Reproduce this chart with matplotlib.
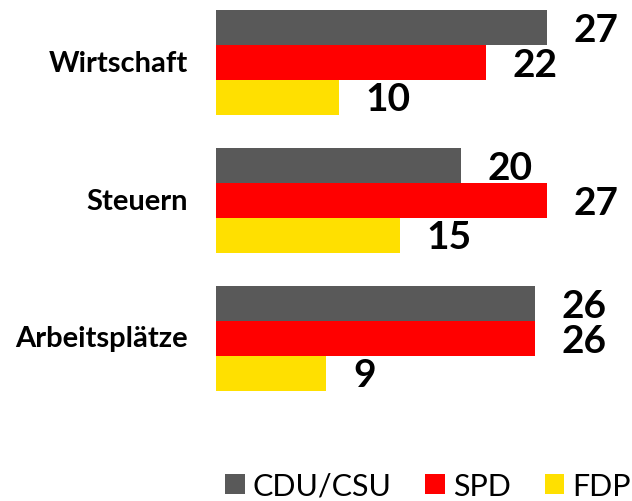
import matplotlib.pyplot as plt
from matplotlib.patches import Patch

plt.rcParams['font.family'] = ['Lato', 'DejaVu Sans']

topics = ["Wirtschaft", "Steuern", "Arbeitsplätze"]
parties = ["CDU/CSU", "SPD", "FDP"]
cdu = [27, 20, 26]
spd = [22, 27, 26]
fdp = [10, 15, 9]
colors = ["#595959", "#ff0000", "#ffe000"]

fig = plt.figure(figsize=(6.32, 5.02), dpi=100)
ax = fig.add_axes([216 / 632, 1 - 440 / 502, 1 - 216 / 632, 440 / 502])

h = 0.2514
for k, (vals, c) in enumerate(zip([cdu, spd, fdp], colors)):
    ys = [i + (k - 1) * h for i in range(len(topics))]
    ax.barh(ys, vals, height=h, color=c, linewidth=0)
    for y, v in zip(ys, vals):
        ax.text(v + 2.2, y + 0.012, str(v), ha='left', va='center',
                fontsize=28, fontweight='bold')

for i, t in enumerate(topics):
    ax.text(-2.3, i, t, ha='right', va='center', fontsize=21,
            fontweight='bold')

ax.set_xlim(0, 416 / 12.25)
ax.set_ylim((440 - 63.5) / 138, -63.5 / 138)
ax.axis('off')

handles = [Patch(facecolor=c, edgecolor='none') for c in colors]
fig.legend(handles, parties, loc='center', bbox_to_anchor=(0.677, 0.03),
           ncol=3, frameon=False, fontsize=22, handlelength=0.65,
           handleheight=0.65, handletextpad=0.26, columnspacing=1.1,
           borderpad=0, borderaxespad=0)

fig.savefig('out.png', dpi=100)
